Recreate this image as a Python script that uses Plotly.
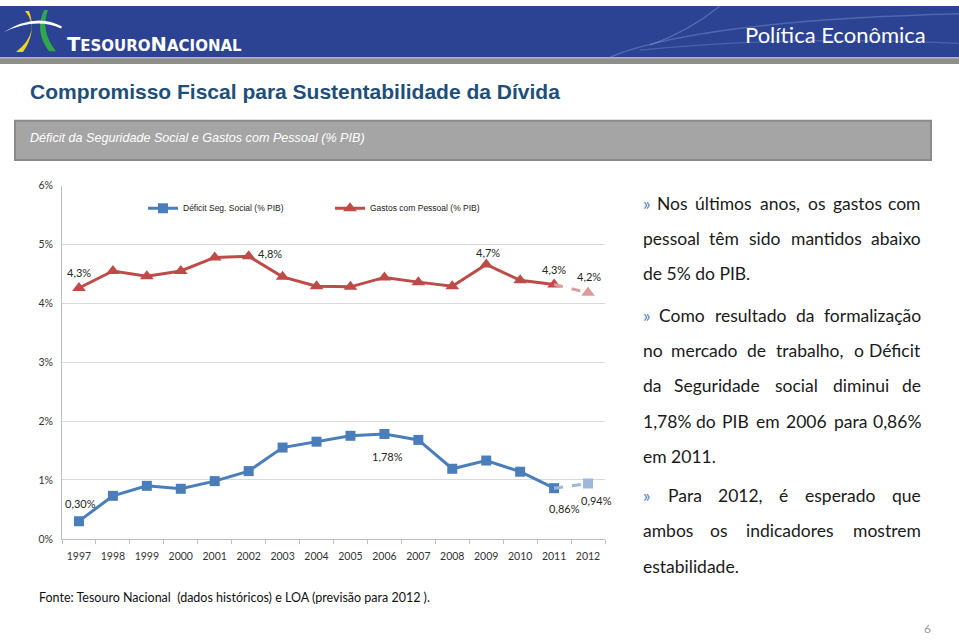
import plotly.graph_objects as go

# ---------------- data ----------------
years = ["1997", "1998", "1999", "2000", "2001", "2002", "2003", "2004",
         "2005", "2006", "2007", "2008", "2009", "2010", "2011", "2012"]
deficit_seg_social = [0.30, 0.73, 0.90, 0.85, 0.98, 1.15, 1.55, 1.65,
                      1.75, 1.78, 1.68, 1.19, 1.33, 1.14, 0.86, 0.94]
gastos_pessoal = [4.26, 4.55, 4.46, 4.55, 4.78, 4.80, 4.45, 4.29,
                  4.28, 4.44, 4.36, 4.29, 4.66, 4.39, 4.32, 4.18]
deficit_labels = {"1997": "0,30%", "2006": "1,78%", "2011": "0,86%", "2012": "0,94%"}
gastos_labels = {"1997": "4,3%", "2002": "4,8%", "2009": "4,7%", "2011": "4,3%", "2012": "4,2%"}
y_ticks = [0, 1, 2, 3, 4, 5, 6]
y_tick_text = ["0%", "1%", "2%", "3%", "4%", "5%", "6%"]

W, H = 959, 640
def px(x): return x / W
def py(y): return 1 - y / H

BLUE = "#4A7EBB"
BLUE_L = "#9DB8DA"
RED = "#BE4B48"
RED_L = "#DA9C9A"
CHART_FONT = "Lato"
NARROW = "Liberation Sans Narrow, Liberation Sans, sans-serif"

fig = go.Figure()
n_hist = 15
fig.add_trace(go.Scatter(x=years[:n_hist], y=deficit_seg_social[:n_hist], mode="lines+markers",
                         name="Déficit Seg. Social (% PIB)",
                         line=dict(color=BLUE, width=3),
                         marker=dict(symbol="square", size=10, color=BLUE)))
fig.add_trace(go.Scatter(x=years[:n_hist], y=gastos_pessoal[:n_hist], mode="lines+markers",
                         name="Gastos com Pessoal (% PIB)",
                         line=dict(color=RED, width=3),
                         marker=dict(symbol="triangle-up", size=12, color=RED)))
fig.add_trace(go.Scatter(x=years[n_hist - 1:], y=deficit_seg_social[n_hist - 1:], mode="lines",
                         line=dict(color=BLUE_L, width=3, dash="dash"), showlegend=False))
fig.add_trace(go.Scatter(x=years[n_hist:], y=deficit_seg_social[n_hist:], mode="markers",
                         marker=dict(symbol="square", size=10, color=BLUE_L), showlegend=False))
fig.add_trace(go.Scatter(x=years[n_hist - 1:], y=gastos_pessoal[n_hist - 1:], mode="lines",
                         line=dict(color=RED_L, width=3, dash="dash"), showlegend=False))
fig.add_trace(go.Scatter(x=years[n_hist:], y=gastos_pessoal[n_hist:], mode="markers",
                         marker=dict(symbol="triangle-up", size=12, color=RED_L), showlegend=False))

annotations = []
deficit_offsets = {"1997": (2, 18), "2006": (3, -22), "2011": (10, -20), "2012": (8, -17)}
gastos_offsets = {"1997": (0, 16), "2002": (21, 3), "2009": (2, 12), "2011": (0, 15), "2012": (1, 16)}
for yr, t in deficit_labels.items():
    i = years.index(yr)
    dx, dy = deficit_offsets[yr]
    annotations.append(dict(x=i, y=deficit_seg_social[i], xref="x", yref="y", text=t,
                            showarrow=False, xshift=dx, yshift=dy,
                            font=dict(family=CHART_FONT, size=11, color="#262626")))
for yr, t in gastos_labels.items():
    i = years.index(yr)
    dx, dy = gastos_offsets[yr]
    annotations.append(dict(x=i, y=gastos_pessoal[i], xref="x", yref="y", text=t,
                            showarrow=False, xshift=dx, yshift=dy,
                            font=dict(family=CHART_FONT, size=11, color="#262626")))

def txt(x, y, s, size, color, family=CHART_FONT, xanchor="left", **kw):
    annotations.append(dict(x=px(x), y=py(y), xref="paper", yref="paper", text=s,
                            showarrow=False, xanchor=xanchor, yanchor="middle",
                            font=dict(family=family, size=size, color=color), **kw))

# header texts
txt(65, 39, "<b>T<span style='font-size:15px'>ESOURO</span>N<span style='font-size:15px'>ACIONAL</span></b>",
    19.5, "white", family="DejaVu Sans", xanchor="left")
txt(928, 29, "Política Econômica", 22, "white", xanchor="right")
txt(28, 87, "<b>Compromisso Fiscal para Sustentabilidade da Dívida</b>", 21, "#1F4E79", family=NARROW)
txt(28, 135, "<i>Déficit da Seguridade Social e Gastos com Pessoal (% PIB)</i>", 12.6, "white", family=NARROW)
txt(37, 603, "Fonte: Tesouro Nacional  (dados históricos) e LOA (previsão para 2012 ).", 12.5, "#111111")
txt(927, 634, "6", 12, "#9A9A9A", xanchor="center")

# right text, justified
CW = {' ': 226, 'a': 479, 'b': 525, 'c': 423, 'd': 525, 'e': 498, 'f': 305, 'g': 471, 'h': 525,
      'i': 229, 'j': 239, 'k': 455, 'l': 229, 'm': 799, 'n': 525, 'o': 527, 'p': 525, 'q': 525,
      'r': 349, 's': 391, 't': 335, 'u': 525, 'v': 452, 'w': 715, 'x': 433, 'y': 453, 'z': 395,
      'A': 579, 'B': 544, 'C': 533, 'D': 615, 'E': 488, 'F': 459, 'G': 631, 'H': 623, 'I': 252,
      'L': 420, 'M': 855, 'N': 646, 'O': 662, 'P': 517, 'R': 543, 'S': 459, 'T': 487,
      ',': 250, '.': 252, '%': 715, '»': 498, 'ú': 525, 'ê': 498, 'é': 498, 'ç': 423, 'ã': 479}
def wlen(w):
    return sum(CW.get(c, 507) for c in w) * 19 / 1000

lines = [
    ("» Nos últimos anos, os gastos com", 201, True),
    ("pessoal têm sido mantidos abaixo", 237, True),
    ("de 5% do PIB.", 273, False),
    ("» Como resultado da formalização", 315, True),
    ("no mercado de trabalho, o Déficit", 351, True),
    ("da Seguridade social diminui de", 387, True),
    ("1,78% do PIB em 2006 para 0,86%", 423, True),
    ("em 2011.", 459, False),
    ("» Para 2012, é esperado que", 499, True),
    ("ambos os indicadores mostrem", 535, True),
    ("estabilidade.", 571, False),
]
L, R = 641, 923
TSIZE = 17.5
TCOL = "#1A1A1A"
for s, y, just in lines:
    words = s.split(" ")
    if not just:
        txt(L, y, s, TSIZE, TCOL)
        continue
    ws = [wlen(w) for w in words]
    gap = (R - L - sum(ws)) / (len(words) - 1)
    xpos = L
    for k, w in enumerate(words):
        col = "#4F81BD" if w == "»" else TCOL
        if k == 0:
            txt(L, y, w, TSIZE, col, xanchor="left")
        elif k == len(words) - 1:
            txt(R, y, w, TSIZE, col, xanchor="right")
        else:
            txt(xpos + ws[k] / 2, y, w, TSIZE, col, xanchor="center")
        xpos += ws[k] + gap

def path(cmds):
    out = []
    for c in cmds:
        out.append(c if isinstance(c, str) else f"{px(c[0]):.5f},{py(c[1]):.5f}")
    return " ".join(out)

shapes = [
    dict(type="rect", xref="paper", yref="paper", x0=0, x1=1, y0=py(52), y1=1,
         fillcolor="#2B4392", line=dict(width=0), layer="below"),
    dict(type="rect", xref="paper", yref="paper", x0=0, x1=1, y0=py(59), y1=py(52),
         fillcolor="#8E8E8E", line=dict(width=0), layer="below"),
    dict(type="rect", xref="paper", yref="paper", x0=0, x1=1, y0=py(53.5), y1=py(52),
         fillcolor="#B5B5B5", line=dict(width=0), layer="below"),
    dict(type="path", xref="paper", yref="paper", layer="below",
         path=path(["M", (610, 52), "Q", (700, 15), (959, 8)]),
         line=dict(color="rgba(150,170,230,0.35)", width=1.5)),
    dict(type="path", xref="paper", yref="paper", layer="below",
         path=path(["M", (640, 45), "Q", (780, 30), (959, 38)]),
         line=dict(color="rgba(150,170,230,0.3)", width=1.2)),
    dict(type="path", xref="paper", yref="paper", layer="below",
         path=path(["M", (720, 0), "Q", (690, 25), (650, 40)]),
         line=dict(color="rgba(170,190,240,0.35)", width=1.2)),
    dict(type="path", xref="paper", yref="paper",
         path=path(["M", (25, 5), "Q", (42, 25), (16, 47), "L", (23, 47), "Q", (37, 26), (29, 5), "Z"]),
         fillcolor="#F2D51E", line=dict(width=0)),
    dict(type="path", xref="paper", yref="paper",
         path=path(["M", (44, 4), "Q", (34, 26), (49, 46), "L", (56, 46), "Q", (40, 26), (48, 4), "Z"]),
         fillcolor="#2EA84A", line=dict(width=0)),
    dict(type="path", xref="paper", yref="paper",
         path=path(["M", (3, 27), "Q", (36, 6), (62, 21), "L", (61, 23), "Q", (36, 11), (3, 27), "Z"]),
         fillcolor="white", line=dict(width=0)),
    dict(type="rect", xref="paper", yref="paper", x0=px(15), x1=px(931), y0=py(157), y1=py(117),
         fillcolor="#A5A5A5", line=dict(color="#8A8A8A", width=2), layer="below"),
]

fig.update_layout(
    width=W, height=H, margin=dict(l=0, r=0, t=0, b=0),
    paper_bgcolor="white", plot_bgcolor="white",
    shapes=shapes, annotations=annotations,
    legend=dict(orientation="h", x=px(143), y=py(206), xanchor="left", yanchor="middle",
                font=dict(family=NARROW, size=8.5, color="#222222"),
                itemwidth=30, entrywidth=142, bgcolor="rgba(0,0,0,0)"),
    xaxis=dict(domain=[px(62), px(605)], type="category", categoryorder="array", categoryarray=years,
               range=[-0.5, len(years) - 0.5], autorange=False,
               showgrid=False, showline=True, linecolor="#BFBFBF", linewidth=1,
               ticks="outside", tickson="boundaries", ticklen=4, tickcolor="#BFBFBF",
               tickfont=dict(family=CHART_FONT, size=10.5, color="#333333"),
               ticklabelstandoff=8, fixedrange=True),
    yaxis=dict(domain=[py(543), py(183)], range=[0, 6], autorange=False,
               tickvals=y_ticks, ticktext=y_tick_text,
               showgrid=True, gridcolor="#D9D9D9", gridwidth=1, zeroline=False,
               showline=True, linecolor="#BFBFBF", linewidth=1, ticks="",
               tickfont=dict(family=CHART_FONT, size=10.5, color="#333333"),
               ticklabelstandoff=6, fixedrange=True),
)

fig.write_html("out.html", post_script="document.body.style.margin='0';")
